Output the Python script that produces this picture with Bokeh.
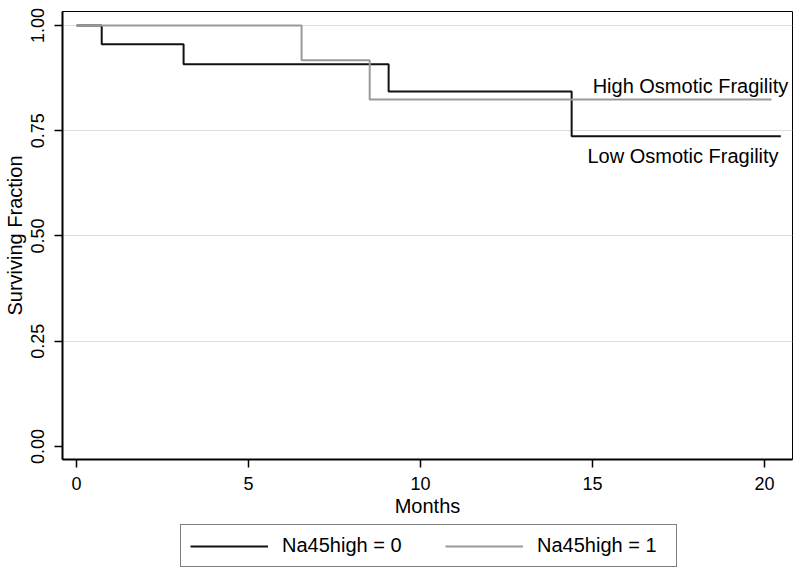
from bokeh.plotting import figure
from bokeh.layouts import column
from bokeh.models import Range1d, FixedTicker, Label, Legend, LegendItem, CustomJSTickFormatter
from bokeh.embed import file_html
from bokeh.resources import INLINE

# Kaplan-Meier step data
months_low = [0.0, 0.73, 3.11, 9.07, 14.39, 20.47]
surv_low = [1.0, 0.955, 0.908, 0.843, 0.737, 0.737]
months_high = [0.0, 6.54, 8.52, 20.2]
surv_high = [1.0, 0.917, 0.824, 0.824]

x_ticks = [0, 5, 10, 15, 20]
y_ticks = [0.0, 0.25, 0.5, 0.75, 1.0]
grid_ticks = [0.25, 0.5, 0.75, 1.0]
legend_labels = ["Na45high = 0", "Na45high = 1"]
annotations = [("High Osmotic Fragility", 15.0, 0.857), ("Low Osmotic Fragility", 14.85, 0.689)]

FONT = "Liberation Sans"
COL_LOW = "#111111"
COL_HIGH = "#9a9a9a"

p = figure(width=800, height=522, output_backend="svg", toolbar_location=None,
           x_range=Range1d(-0.41, 20.81), y_range=Range1d(-0.031, 1.033),
           min_border_left=62, min_border_top=11, min_border_right=8,
           min_border_bottom=63)

p.background_fill_color = "white"
p.border_fill_color = "white"
p.outline_line_color = "black"
p.outline_line_width = 1

p.step(months_low, surv_low, mode="after", line_color=COL_LOW, line_width=2)
p.step(months_high, surv_high, mode="after", line_color=COL_HIGH, line_width=2)

# axes
p.xaxis.ticker = FixedTicker(ticks=x_ticks)
p.yaxis.ticker = FixedTicker(ticks=y_ticks)
p.yaxis.formatter = CustomJSTickFormatter(code="return tick.toFixed(2);")
for ax in (p.xaxis[0], p.yaxis[0]):
    ax.axis_line_width = 2
    ax.axis_line_color = "black"
    ax.major_tick_out = 8
    ax.major_tick_in = 0
    ax.major_tick_line_width = 1.5
    ax.minor_tick_out = 0
    ax.minor_tick_in = 0
    ax.major_label_text_font = FONT
    ax.major_label_text_font_size = "18px"
    ax.major_label_text_color = "black"
    ax.axis_label_text_font = FONT
    ax.axis_label_text_font_size = "20px"
    ax.axis_label_text_font_style = "normal"
    ax.axis_label_text_color = "black"
p.xaxis.axis_label = "Months"
p.yaxis.axis_label = "Surviving Fraction"
p.yaxis.major_label_orientation = "vertical"
p.xaxis.major_label_standoff = 9
p.xaxis.axis_label_standoff = 2
p.yaxis.major_label_standoff = 10
p.yaxis.axis_label_standoff = 3

p.xgrid.visible = False
p.ygrid.ticker = FixedTicker(ticks=grid_ticks)
p.ygrid.grid_line_color = "#dcdcdc"
p.ygrid.grid_line_width = 1

for text, x, y in annotations:
    p.add_layout(Label(x=x, y=y, text=text, text_font=FONT, text_font_size="20px",
                       text_baseline="middle", text_color="black"))

# legend strip below the plot (its renderers hold the same data, drawn out of view)
p2 = figure(width=800, height=53, output_backend="svg", toolbar_location=None,
            x_axis_location=None, y_axis_location=None,
            x_range=Range1d(100, 101), y_range=Range1d(100, 101),
            min_border=0, min_border_left=0, min_border_right=0,
            min_border_top=0, min_border_bottom=0)
p2.outline_line_color = None
p2.grid.visible = False
p2.background_fill_color = "white"
p2.border_fill_color = "white"
l0 = p2.line(months_low, surv_low, line_color=COL_LOW, line_width=2)
l1 = p2.line(months_high, surv_high, line_color=COL_HIGH, line_width=2)

legend = Legend(items=[LegendItem(label=legend_labels[0], renderers=[l0]),
                       LegendItem(label=legend_labels[1], renderers=[l1])],
                orientation="horizontal", location=(118, 8),
                label_text_font=FONT, label_text_font_size="20px", label_text_color="black",
                border_line_color="black", border_line_width=1,
                glyph_width=78, glyph_height=20, label_height=20, label_width=130,
                spacing=33, padding=9, label_standoff=14, margin=0)
p2.add_layout(legend, "center")

open("out.html", "w").write(file_html(column(p, p2, spacing=0), INLINE))
